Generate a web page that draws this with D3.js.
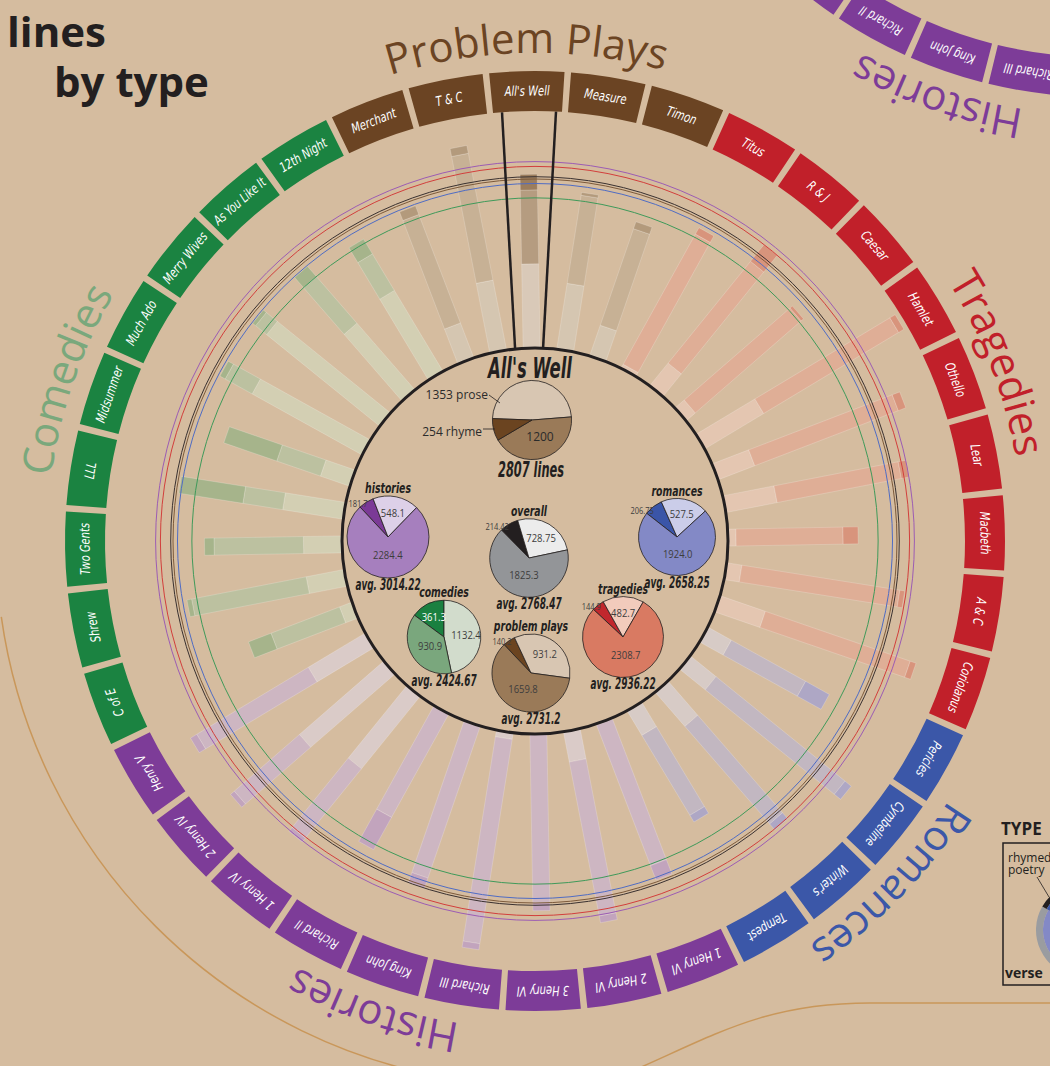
<!DOCTYPE html>
<html>
<head>
<meta charset="UTF-8">
<title>lines by type</title>
<script src="https://d3js.org/d3.v7.min.js"></script>
<style>
  body { margin: 0; background: #d5bc9f; }
  svg { display: block; }
</style>
</head>
<body>
<div id="chart"></div>
<script>
// ---- data ----
// plays, clockwise from the top of the wheel
var plays = ["All's Well", "Measure", "Timon", "Titus", "R & J", "Caesar", "Hamlet", "Othello",
  "Lear", "Macbeth", "A & C", "Coriolanus", "Pericles", "Cymbeline", "Winter's", "Tempest",
  "1 Henry VI", "2 Henry VI", "3 Henry VI", "Richard III", "King John", "Richard II",
  "1 Henry IV", "2 Henry IV", "Henry V", "C of E", "Shrew", "Two Gents", "LLL", "Midsummer",
  "Much Ado", "Merry Wives", "As You Like It", "12th Night", "Merchant", "T & C"];

var playType = ["problem", "problem", "problem",
  "tragedies", "tragedies", "tragedies", "tragedies", "tragedies", "tragedies", "tragedies", "tragedies", "tragedies",
  "romances", "romances", "romances", "romances",
  "histories", "histories", "histories", "histories", "histories", "histories", "histories", "histories", "histories",
  "comedies", "comedies", "comedies", "comedies", "comedies", "comedies", "comedies", "comedies", "comedies",
  "problem", "problem"];

// lines per play
var prose = [1353, 1065, 508, 54, 455, 180, 1100, 620, 830, 115, 230, 760, 420, 520, 720, 450,
  0, 480, 0, 90, 0, 0, 1500, 1800, 1063, 197, 610, 610, 977, 488, 2028, 2348, 1418, 1516, 590, 1140];
var verse = [1200, 1450, 1660, 2420, 2130, 2280, 2560, 2500, 2058, 1740, 2600, 2490, 1380, 2700, 2100, 1516,
  2447, 2552, 2726, 3363, 2595, 1907, 1451, 1404, 2115, 1194, 1897, 1454, 655, 751, 501, 231, 1002, 693, 1889, 2100];
var rhyme = [254, 47, 120, 120, 350, 50, 100, 130, 130, 244, 80, 100, 440, 130, 130, 127,
  250, 110, 130, 100, 165, 600, 80, 80, 120, 392, 77, 155, 1055, 910, 97, 63, 223, 280, 150, 130];

// averages shown in the small pies
var pieGroups = ["histories", "overall", "romances", "comedies", "tragedies", "problem plays"];
var avgProse = [548.1, 728.75, 527.5, 1132.4, 482.7, 931.2];
var avgVerse = [2284.4, 1825.3, 1924.0, 930.9, 2308.7, 1659.8];
var avgRhyme = [181.7, 214.42, 206.75, 361.3, 144.9, 140.2];
var avgTotal = [3014.22, 2768.47, 2658.25, 2424.67, 2936.22, 2731.2];

// group labels round the wheel
var groupKeys = ["problem", "tragedies", "romances", "histories", "comedies"];
var groupNames = ["Problem Plays", "Tragedies", "Romances", "Histories", "Comedies"];

var selected = 0; // All's Well

// ---- styles ----
var W = 1050, H = 1066, cx = 535, cy = 541;
var a0 = -1, step = 360 / plays.length;
var narrow = "'Liberation Sans Narrow', 'DejaVu Sans Condensed', 'Arial Narrow', sans-serif";
var sans = "'Open Sans', 'Noto Sans', sans-serif";

var boxColor = { problem: "#6b4423", tragedies: "#c1202a", romances: "#3b57a8", histories: "#7d3c98", comedies: "#1b8341" };
var groupLabelColor = { problem: "#6b4423", tragedies: "#c1202a", romances: "#3b57a8", histories: "#7d3c98", comedies: "#7aa87c" };
// prose, verse, rhyme shades for the faded bars
var barPalette = {
  problem: ["#d5c6b1", "#c7b195", "#b39a7c"],
  tragedies: ["#e4c6b1", "#dfae96", "#d8947c"],
  romances: ["#d7cbc6", "#c2b7c1", "#aea7c5"],
  histories: ["#dacbc8", "#cdb6c2", "#c2a4bd"],
  comedies: ["#d3cfb3", "#bcc1a0", "#a6b48b"]
};
var selPalette = ["#d9c9b8", "#b59c80", "#9b7d5d"];
var ringColor = { "histories": "#9c5cb4", "tragedies": "#d23f3c", "overall": "#3a3130",
  "problem plays": "#7c5a3b", "romances": "#4f6cc4", "comedies": "#3f9a5a" };
var pieColors = {
  "histories": { rhyme: "#7b3a96", prose: "#ddd0e8", verse: "#a67fbe" },
  "overall": { rhyme: "#231f20", prose: "#ececec", verse: "#939598" },
  "romances": { rhyme: "#3a55a8", prose: "#cbcde9", verse: "#8389c6" },
  "comedies": { rhyme: "#1a8040", prose: "#d2dccc", verse: "#7aa77d" },
  "tragedies": { rhyme: "#c1272d", prose: "#f2cbbc", verse: "#d97a62" },
  "problem plays": { rhyme: "#6b4420", prose: "#d8c6b2", verse: "#9a7a58" }
};
// where the small pies sit, relative to the centre
var pieLayout = {
  "histories": { dx: -147, dy: -4, start: -43 },
  "overall": { dx: -6, dy: 17, start: -44.6 },
  "romances": { dx: 142, dy: -4, start: -52 },
  "comedies": { dx: -91, dy: 96, start: -53.6 },
  "tragedies": { dx: 88, dy: 96, start: -47 },
  "problem plays": { dx: -4, dy: 132, start: -43.5 }
};

function ang(i) { return a0 + i * step; }
function rad(d) { return d * Math.PI / 180; }
function polar(deg, r, x0, y0) {
  return [x0 + r * Math.sin(rad(deg)), y0 - r * Math.cos(rad(deg))];
}
function fmt(v) {
  return Math.abs(v * 10 - Math.round(v * 10)) < 1e-6 ? v.toFixed(1) : v.toFixed(2);
}
// squeeze text horizontally, like a condensed face
function condense(sel, f, maxLen) {
  sel.each(function() {
    var l = this.getComputedTextLength() * f;
    if (maxLen && l > maxLen) l = maxLen;
    d3.select(this).attr("textLength", l).attr("lengthAdjust", "spacingAndGlyphs");
  });
}

var svg = d3.select("#chart").append("svg").attr("width", W).attr("height", H);
svg.append("rect").attr("width", W).attr("height", H).attr("fill", "#d5bc9f");

// connector curves to the neighbouring wheels
var tan = d3.path();
tan.arc(cx + 6, cy, 545, rad(188 - 90), rad(262 - 90));
svg.append("path").attr("d", tan.toString()).attr("fill", "none")
  .attr("stroke", "#c9975a").attr("stroke-width", 1.5);
svg.append("path").attr("d", "M630,1072 C715,1035 765,1003 870,1003 L1052,1003")
  .attr("fill", "none").attr("stroke", "#c9975a").attr("stroke-width", 1.5);

// radial scale for bars and average rings
var rScale = d3.scaleLinear().domain([0, d3.max(avgTotal)]).range([194, 379.4]);
var pieR = d3.scaleSqrt().domain([0, d3.max(avgTotal)]).range([0, 41]);

// ---- bars ----
var barG = svg.append("g").attr("transform", "translate(" + cx + "," + cy + ")");
barG.selectAll("g").data(plays).join("g")
  .attr("transform", function(d, i) { return "rotate(" + ang(i) + ")"; })
  .selectAll("rect")
  .data(function(d, i) {
    var p = prose[i], v = verse[i], r = rhyme[i];
    return [
      { i: i, k: 0, v0: 0, v1: p },
      { i: i, k: 1, v0: p, v1: p + v },
      { i: i, k: 2, v0: p + v, v1: p + v + r }
    ];
  })
  .join("rect")
  .attr("x", -8.5).attr("width", 17)
  .attr("y", function(s) { return -rScale(s.v1); })
  .attr("height", function(s) { return rScale(s.v1) - rScale(s.v0); })
  .attr("fill", function(s) {
    return s.i === selected ? selPalette[s.k] : barPalette[playType[s.i]][s.k];
  })
  .attr("stroke", "rgba(255,255,255,0.3)").attr("stroke-width", 0.6);

// ---- average rings ----
svg.append("g").selectAll("circle").data(pieGroups).join("circle")
  .attr("cx", cx).attr("cy", cy)
  .attr("r", function(d, i) { return rScale(avgTotal[i]); })
  .attr("fill", "none").attr("stroke", function(d) { return ringColor[d]; })
  .attr("stroke-width", 1);

// centre circle
svg.append("circle").attr("cx", cx).attr("cy", cy).attr("r", 193)
  .attr("fill", "none").attr("stroke", "#231f20").attr("stroke-width", 3);

// pointer lines from the selected label to the centre
var sa = ang(selected);
[[sa - 3.4, sa - 4.9], [sa + 3.8, sa + 3.4]].forEach(function(p) {
  var a = polar(p[0], 430, cx, cy), b = polar(p[1], 194, cx, cy);
  svg.append("line").attr("x1", a[0]).attr("y1", a[1]).attr("x2", b[0]).attr("y2", b[1])
    .attr("stroke", "#231f20").attr("stroke-width", 2.5);
});

// ---- label ring ----
function inView(x, y, pad) {
  return x > -pad && x < W + pad && y > -pad && y < H + pad;
}
function drawRing(x0, y0) {
  var g = svg.append("g").attr("transform", "translate(" + x0 + "," + y0 + ")");
  var idx = d3.range(plays.length).filter(function(i) {
    var p = polar(ang(i), 450, x0, y0);
    return inView(p[0], p[1], 60);
  });
  var boxArc = d3.arc().innerRadius(430).outerRadius(470);
  g.selectAll("path.box").data(idx).join("path").attr("class", "box")
    .attr("d", function(i) {
      return boxArc({ startAngle: rad(ang(i) - 4.6), endAngle: rad(ang(i) + 4.6) });
    })
    .attr("fill", function(i) { return boxColor[playType[i]]; });
  var txt = g.selectAll("text.box").data(idx.filter(function(i) {
      var p = polar(ang(i), 450, x0, y0);
      return inView(p[0], p[1], 10);
    })).join("text").attr("class", "box")
    .attr("transform", function(i) { return "rotate(" + ang(i) + ") translate(0,-445.5)"; })
    .attr("text-anchor", "middle")
    .attr("font-family", narrow).attr("font-style", "italic").attr("font-size", 13.5)
    .attr("fill", "white")
    .text(function(i) { return plays[i]; });
  condense(txt, 0.82, 64);

  // big group names on arcs
  groupKeys.forEach(function(key, gi) {
    var s = 0, c = 0;
    playType.forEach(function(t, i) {
      if (t === key) { s += Math.sin(rad(ang(i))); c += Math.cos(rad(ang(i))); }
    });
    var mid = Math.atan2(s, c) * 180 / Math.PI;
    var pc = polar(mid, 490, x0, y0);
    if (!inView(pc[0], pc[1], 20)) return;
    var id = "garc" + Math.round(x0) + "_" + gi;
    var p = d3.path();
    p.arc(0, 0, 488, rad(mid - 60 - 90), rad(mid + 60 - 90));
    g.append("path").attr("id", id).attr("d", p.toString()).attr("fill", "none");
    g.append("text")
      .attr("font-family", sans).attr("font-size", 42)
      .attr("fill", groupLabelColor[key])
      .append("textPath").attr("href", "#" + id)
      .attr("startOffset", "50%").attr("text-anchor", "middle")
      .text(groupNames[gi]);
  });
}
drawRing(cx, cy);
drawRing(1099, -373);

// ---- centre: selected play ----
var selTotal = prose[selected] + verse[selected] + rhyme[selected];
var selX = cx - 3, selY = cy - 121, selR = pieR(selTotal);
svg.append("text").attr("x", cx - 5).attr("y", 378).attr("text-anchor", "middle")
  .attr("font-family", narrow).attr("font-weight", "bold").attr("font-style", "italic")
  .attr("font-size", 28).attr("textLength", 84).attr("lengthAdjust", "spacingAndGlyphs")
  .attr("fill", "#231f20").text(plays[selected]);

var selData = [
  { k: "prose", v: prose[selected] },
  { k: "verse", v: verse[selected] },
  { k: "rhyme", v: rhyme[selected] }
];
var selArcs = d3.pie().sort(null).value(function(d) { return d.v; })
  .startAngle(rad(-88)).endAngle(rad(272))(selData);
var selG = svg.append("g").attr("transform", "translate(" + selX + "," + selY + ")");
selG.selectAll("path").data(selArcs).join("path")
  .attr("d", d3.arc().innerRadius(0).outerRadius(selR))
  .attr("fill", function(d) { return pieColors["problem plays"][d.data.k]; })
  .attr("stroke", "#231f20").attr("stroke-width", 0.8);
selG.append("text").attr("x", 8).attr("y", 21).attr("text-anchor", "middle")
  .attr("font-family", sans).attr("font-size", 12).attr("fill", "#2b2b2b")
  .text(verse[selected]);
selG.append("text").attr("x", -44).attr("y", -21).attr("text-anchor", "end")
  .attr("font-family", sans).attr("font-size", 12).attr("fill", "#2b2b2b")
  .text(prose[selected] + " prose");
selG.append("line").attr("x1", -43).attr("y1", -25).attr("x2", -32).attr("y2", -17)
  .attr("stroke", "#231f20").attr("stroke-width", 0.8);
selG.append("text").attr("x", -50).attr("y", 16).attr("text-anchor", "end")
  .attr("font-family", sans).attr("font-size", 12).attr("fill", "#2b2b2b")
  .text(rhyme[selected] + " rhyme");
selG.append("line").attr("x1", -49).attr("y1", 9).attr("x2", -37).attr("y2", 9)
  .attr("stroke", "#231f20").attr("stroke-width", 0.8);
svg.append("text").attr("x", 531).attr("y", 477).attr("text-anchor", "middle")
  .attr("font-family", narrow).attr("font-weight", "bold").attr("font-style", "italic")
  .attr("font-size", 21).attr("textLength", 66).attr("lengthAdjust", "spacingAndGlyphs")
  .attr("fill", "#231f20").text(selTotal + " lines");

// ---- centre: average pies ----
pieGroups.forEach(function(name, gi) {
  var lay = pieLayout[name];
  var px = cx + lay.dx, py = cy + lay.dy, r = pieR(avgTotal[gi]);
  var data = [
    { k: "rhyme", v: avgRhyme[gi] },
    { k: "prose", v: avgProse[gi] },
    { k: "verse", v: avgVerse[gi] }
  ];
  var arcs = d3.pie().sort(null).value(function(d) { return d.v; })
    .startAngle(rad(lay.start)).endAngle(rad(lay.start + 360))(data);
  var g = svg.append("g").attr("transform", "translate(" + px + "," + py + ")");
  g.selectAll("path").data(arcs).join("path")
    .attr("d", d3.arc().innerRadius(0).outerRadius(r))
    .attr("fill", function(d) { return pieColors[name][d.data.k]; })
    .attr("stroke", "#231f20").attr("stroke-width", 0.8);

  arcs.forEach(function(a) {
    var midDeg = (a.startAngle + a.endAngle) / 2 * 180 / Math.PI;
    var t = g.append("text").attr("font-family", sans).attr("fill", "#3d3d3d")
      .text(fmt(a.data.v));
    if (a.data.k === "rhyme" && name !== "comedies") {
      var q = polar(lay.start + 3, r * 1.04, 0, 0);
      t.attr("x", q[0] + 7).attr("y", q[1] + 3).attr("text-anchor", "end").attr("font-size", 8.5);
      condense(t, 0.88);
    } else {
      var f = a.data.k === "prose" ? 0.6 : (a.data.k === "verse" ? 0.45 : 0.62);
      var q2 = polar(midDeg, r * f, 0, 0);
      t.attr("x", q2[0]).attr("y", q2[1] + 4).attr("text-anchor", "middle").attr("font-size", 10.5);
      if (a.data.k === "rhyme") t.attr("fill", "white");
      condense(t, 0.9);
    }
  });

  var head = g.append("text").attr("x", 0).attr("y", -r - 3).attr("text-anchor", "middle")
    .attr("font-family", narrow).attr("font-weight", "bold").attr("font-style", "italic")
    .attr("font-size", 14).attr("fill", "#231f20").text(name);
  condense(head, 0.74);
  var avg = g.append("text").attr("x", 0).attr("y", r + 12).attr("text-anchor", "middle")
    .attr("font-family", narrow).attr("font-weight", "bold").attr("font-style", "italic")
    .attr("font-size", 15).attr("fill", "#231f20").text("avg. " + fmt(avgTotal[gi]));
  condense(avg, 0.66);
});

// ---- title ----
svg.append("text").attr("x", 7).attr("y", 47)
  .attr("font-family", sans).attr("font-weight", "bold").attr("font-size", 42)
  .attr("fill", "#231f20").text("lines");
svg.append("text").attr("x", 54).attr("y", 97)
  .attr("font-family", sans).attr("font-weight", "bold").attr("font-size", 42)
  .attr("fill", "#231f20").text("by type");

// ---- legend (cut at the right edge) ----
var lg = svg.append("g");
lg.append("text").attr("x", 1001).attr("y", 835)
  .attr("font-family", sans).attr("font-weight", "bold").attr("font-size", 17)
  .attr("fill", "#231f20").text("TYPE");
lg.append("rect").attr("x", 1003).attr("y", 843).attr("width", 90).attr("height", 142)
  .attr("fill", "none").attr("stroke", "#231f20").attr("stroke-width", 1.5);
lg.append("text").attr("x", 1008).attr("y", 862).attr("font-family", sans)
  .attr("font-size", 12).attr("fill", "#231f20").text("rhymed");
lg.append("text").attr("x", 1008).attr("y", 874).attr("font-family", sans)
  .attr("font-size", 12).attr("fill", "#231f20").text("poetry");
var icon = lg.append("g").attr("transform", "translate(1083,930)");
var iconArc = d3.arc();
icon.append("path").attr("d", iconArc({ innerRadius: 40, outerRadius: 47, startAngle: rad(190), endAngle: rad(300) })).attr("fill", "#9a9ca0");
icon.append("path").attr("d", iconArc({ innerRadius: 42, outerRadius: 47, startAngle: rad(300), endAngle: rad(330) })).attr("fill", "#231f20");
icon.append("path").attr("d", iconArc({ innerRadius: 36, outerRadius: 42, startAngle: rad(300), endAngle: rad(360) })).attr("fill", "#3b57a8");
icon.append("path").attr("d", iconArc({ innerRadius: 33, outerRadius: 40, startAngle: rad(190), endAngle: rad(300) })).attr("fill", "#8389c6");
icon.append("path").attr("d", iconArc({ innerRadius: 0, outerRadius: 33, startAngle: rad(180), endAngle: rad(360) })).attr("fill", "#d97a62");
icon.append("path").attr("d", iconArc({ innerRadius: 22, outerRadius: 36, startAngle: rad(320), endAngle: rad(360) })).attr("fill", "#c1272d");
lg.append("line").attr("x1", 1037).attr("y1", 877).attr("x2", 1049).attr("y2", 897)
  .attr("stroke", "#231f20").attr("stroke-width", 0.8);
lg.append("text").attr("x", 1005).attr("y", 978).attr("font-family", sans)
  .attr("font-weight", "bold").attr("font-size", 14).attr("fill", "#231f20").text("verse");
</script>
</body>
</html>
